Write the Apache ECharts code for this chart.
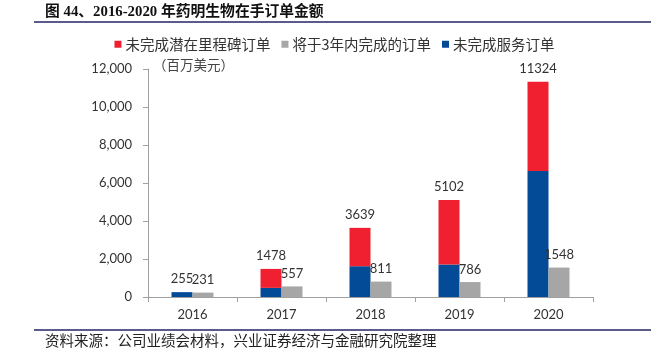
<!DOCTYPE html>
<html>
<head>
<meta charset="utf-8">
<script src="https://cdn.jsdelivr.net/npm/echarts@6/dist/echarts.min.js"></script>
<style>html,body{margin:0;padding:0;background:#fff;}#c{width:669px;height:357px;}</style>
</head>
<body>
<div id="c"></div>
<script>
var years = ['2016', '2017', '2018', '2019', '2020'];
var serviceOrders = [255, 480, 1620, 1710, 6630];        // 未完成服务订单 (blue)
var milestoneOrders = [0, 998, 2019, 3392, 4694];        // 未完成潜在里程碑订单 (red)
var totalBacklog = [255, 1478, 3639, 5102, 11324];       // 合计 labels
var threeYearOrders = [231, 557, 811, 786, 1548];        // 将于3年内完成的订单 (gray)
var yTicks = [0, 2000, 4000, 6000, 8000, 10000, 12000];

var NUM_FONT = 'Lato, "Open Sans", sans-serif';
var CJK_FONT = '"Noto Sans CJK SC", sans-serif';

var chart = echarts.init(document.getElementById('c'), null, {renderer: 'canvas'});
chart.setOption({
  animation: false,
  backgroundColor: '#ffffff',
  grid: {left: 148, right: 76, top: 69, bottom: 60, containLabel: false, outerBoundsMode: 'none'},
  legend: {
    data: ['未完成潜在里程碑订单', '将于3年内完成的订单', '未完成服务订单'],
    left: 'center', top: 32,
    itemWidth: 7, itemHeight: 7, itemGap: 11,
    icon: 'rect',
    textStyle: {fontFamily: CJK_FONT, fontSize: 14.5, color: '#333', padding: [0, 0, 0, -1]}
  },
  xAxis: {
    type: 'category',
    data: years,
    boundaryGap: true,
    axisLine: {lineStyle: {color: '#a0a0a0', width: 1}},
    axisTick: {show: true, length: 5, lineStyle: {color: '#a0a0a0'}},
    axisLabel: {fontFamily: NUM_FONT, fontSize: 13, color: '#333', margin: 11}
  },
  yAxis: {
    type: 'value',
    min: yTicks[0], max: yTicks[yTicks.length - 1], interval: yTicks[1] - yTicks[0],
    axisLine: {show: true, lineStyle: {color: '#a0a0a0', width: 1}},
    axisTick: {show: true, length: 5, lineStyle: {color: '#a0a0a0'}},
    splitLine: {show: false},
    axisLabel: {
      fontFamily: NUM_FONT, fontSize: 13, color: '#333', margin: 16,
      formatter: function (v) { return v.toLocaleString('en-US'); }
    }
  },
  series: [
    {
      name: '未完成服务订单', type: 'bar', stack: 'backlog',
      data: serviceOrders, barWidth: 21, barGap: '0%',
      itemStyle: {color: '#034a97'}
    },
    {
      name: '未完成潜在里程碑订单', type: 'bar', stack: 'backlog',
      data: milestoneOrders, barWidth: 21, barGap: '0%',
      itemStyle: {color: '#f02030'},
      label: {
        show: true, position: 'top', distance: 7,
        fontFamily: NUM_FONT, fontSize: 13, color: '#333',
        formatter: function (p) { return String(totalBacklog[p.dataIndex]); }
      }
    },
    {
      name: '将于3年内完成的订单', type: 'bar',
      data: threeYearOrders, barWidth: 21, barGap: '0%',
      itemStyle: {color: '#a6a6a6'},
      label: {
        show: true, position: 'top', distance: 6,
        fontFamily: NUM_FONT, fontSize: 13, color: '#333'
      }
    }
  ],
  graphic: [
    {type: 'text', left: 45, top: 5, style: {text: '图 44、2016-2020 年药明生物在手订单金额', font: 'bold 14.8px "Liberation Serif", "Noto Sans CJK SC", serif', fill: '#111'}},
    {type: 'rect', shape: {x: 34, y: 21, width: 617, height: 2}, style: {fill: '#5b5b8a'}},
    {type: 'text', left: 153, top: 58, style: {text: '（百万美元）', font: '13.5px "Noto Sans CJK SC", sans-serif', fill: '#444'}},
    {type: 'rect', shape: {x: 34, y: 329, width: 617, height: 2}, style: {fill: '#5b5b8a'}},
    {type: 'text', left: 45, top: 333, style: {text: '资料来源：公司业绩会材料，兴业证券经济与金融研究院整理', font: '14.5px "Noto Sans CJK SC", sans-serif', fill: '#222'}}
  ]
});
</script>
</body>
</html>
